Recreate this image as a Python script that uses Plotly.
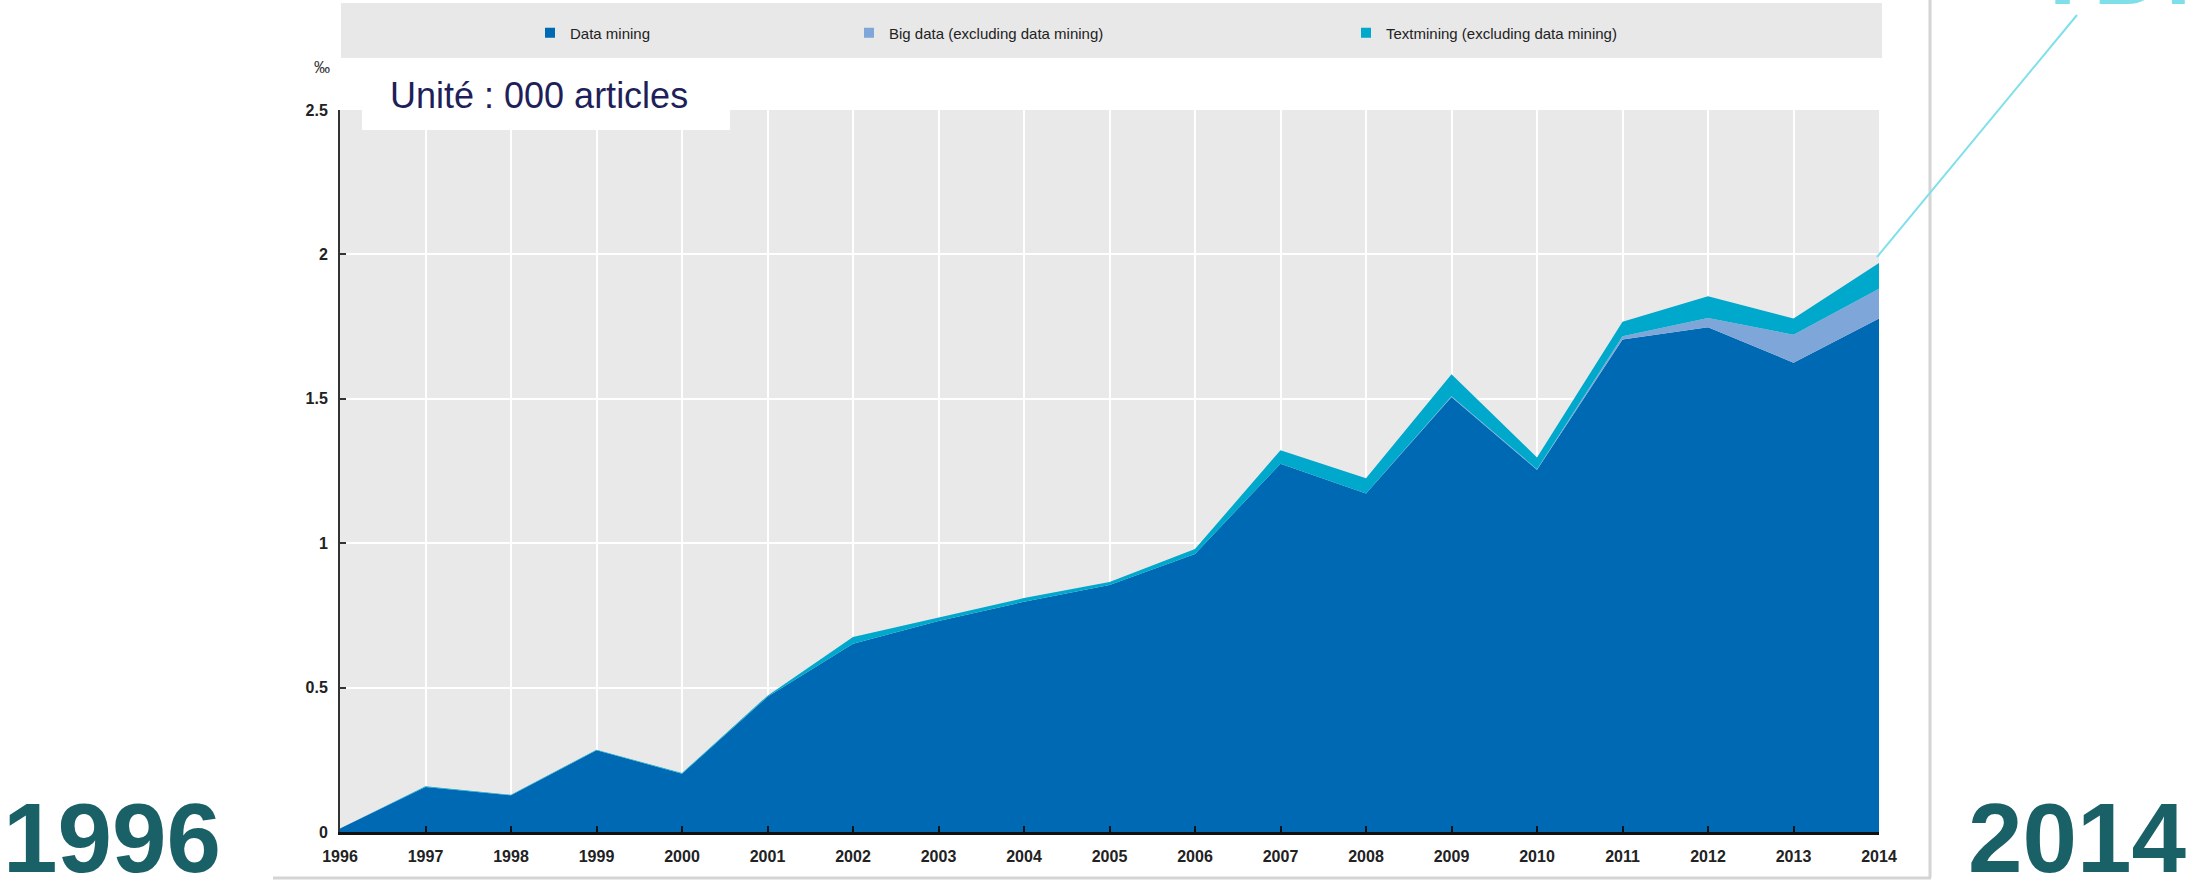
import plotly.graph_objects as go

# ---- data (per-mille) ----
years = [1996, 1997, 1998, 1999, 2000, 2001, 2002, 2003, 2004, 2005,
         2006, 2007, 2008, 2009, 2010, 2011, 2012, 2013, 2014]
data_mining = [0.012, 0.156, 0.127, 0.283, 0.202, 0.468, 0.652, 0.731, 0.797, 0.855,
               0.963, 1.275, 1.172, 1.506, 1.254, 1.705, 1.748, 1.625, 1.778]
big_data = [0, 0, 0, 0, 0, 0, 0, 0, 0, 0,
            0, 0, 0, 0.003, 0.002, 0.012, 0.032, 0.097, 0.103]
text_mining = [0, 0.002, 0.002, 0.002, 0.002, 0.004, 0.023, 0.012, 0.013, 0.011,
               0.017, 0.047, 0.053, 0.076, 0.041, 0.05, 0.075, 0.056, 0.089]
series_names = ["Data mining", "Big data (excluding data mining)",
                "Textmining (excluding data mining)"]
series_colors = ["#0069b4", "#7ea6d9", "#00a8cb"]
y_ticks = [0, 0.5, 1, 1.5, 2, 2.5]
y_tick_text = ["0", "0.5", "1", "1.5", "2", "2.5"]

W, H = 2194, 882
L, R, T, B = 340, 315, 110, 50
PW, PH = W - L - R, H - T - B


def px(x):
    return (x - L) / PW


def py(y):
    return (H - B - y) / PH


fig = go.Figure()
for name, vals, col in zip(series_names, [data_mining, big_data, text_mining], series_colors):
    fig.add_trace(go.Scatter(
        x=years, y=vals, name=name, stackgroup="one", mode="lines",
        line=dict(width=0, color=col), fillcolor=col, showlegend=False,
        legendgroup=name, hoverinfo="x+y+name"))

legend_ids = ["legend", "legend2", "legend3"]
legend_px = [530, 849, 1346]
for name, col, lid in zip(series_names, series_colors, legend_ids):
    fig.add_trace(go.Scatter(
        x=[None], y=[None], name=name, mode="markers",
        marker=dict(symbol="square", size=10, color=col),
        legendgroup=name, legend=lid, showlegend=True))

lfont = dict(family="Liberation Sans, Arial, sans-serif", size=15, color="#222222")
legends = {}
for lid, lx in zip(legend_ids, legend_px):
    legends[lid] = dict(x=px(lx), y=py(33), xanchor="left", yanchor="middle",
                        orientation="h", bgcolor="rgba(0,0,0,0)", font=lfont,
                        itemwidth=30)

tickfont = dict(family="Liberation Sans, Arial, sans-serif", size=16, color="#222222",
                weight="bold")

fig.update_layout(
    width=W, height=H,
    margin=dict(l=L, r=R, t=T, b=B, pad=0),
    paper_bgcolor="white", plot_bgcolor="#e9e9e9",
    showlegend=True,
    **legends,
    xaxis=dict(range=[1996, 2014], tickmode="array", tickvals=years,
               ticktext=[str(y) for y in years], showgrid=True, gridcolor="white",
               gridwidth=2, showline=True, linecolor="#111111", linewidth=3,
               ticks="inside", ticklen=6, tickwidth=2, tickcolor="#111111",
               tickfont=tickfont, zeroline=False, ticklabelstandoff=8),
    yaxis=dict(range=[0, 2.5], tickmode="array", tickvals=y_ticks, ticktext=y_tick_text,
               showgrid=True, gridcolor="white", gridwidth=2, showline=True,
               linecolor="#333333", linewidth=2, ticks="inside", ticklen=6,
               tickwidth=2, tickcolor="#333333", tickfont=tickfont, zeroline=False,
               ticklabelstandoff=7),
)

shapes = [
    # legend band
    dict(type="rect", xref="paper", yref="paper", x0=px(341), x1=px(1882), y0=py(58), y1=py(3),
         fillcolor="#e8e8e8", line=dict(width=0), layer="below"),
    # unit label box
    dict(type="rect", xref="paper", yref="paper", x0=px(362), x1=px(730), y0=py(130), y1=py(60),
         fillcolor="white", line=dict(width=0), layer="above"),
    # frame lines
    dict(type="line", xref="paper", yref="paper", x0=px(1930), x1=px(1930), y0=py(0), y1=py(878),
         line=dict(color="#d4d4d4", width=3)),
    dict(type="line", xref="paper", yref="paper", x0=px(273), x1=px(1931), y0=py(878), y1=py(878),
         line=dict(color="#d4d4d4", width=3)),
    # callout line
    dict(type="line", xref="paper", yref="paper", x0=px(1877), x1=px(2077), y0=py(257), y1=py(15),
         line=dict(color="#7fe0ea", width=2)),
]
fig.update_layout(shapes=shapes)

annotations = [
    dict(text="Unité : 000 articles", xref="paper", yref="paper", x=px(388), y=py(96),
         xanchor="left", yanchor="middle", showarrow=False,
         font=dict(family="Liberation Sans, Arial, sans-serif", size=36, color="#1f1f5a")),
    dict(text="‰", xref="paper", yref="paper", x=px(322), y=py(68), xanchor="center",
         yanchor="middle", showarrow=False, font=dict(family="Liberation Sans, sans-serif",
                                                      size=16, color="#333333")),
    dict(text="<b>1996</b>", xref="paper", yref="paper", x=px(112), y=py(838),
         xanchor="center", yanchor="middle", showarrow=False,
         font=dict(family="Liberation Sans, Arial, sans-serif", size=98, color="#1a6167")),
    dict(text="<b>2014</b>", xref="paper", yref="paper", x=px(2077), y=py(838),
         xanchor="center", yanchor="middle", showarrow=False,
         font=dict(family="Liberation Sans, Arial, sans-serif", size=98, color="#1a6167")),
    dict(text="<b>TDM</b>", xref="paper", yref="paper", x=px(2030), y=py(27),
         xanchor="left", yanchor="bottom", showarrow=False,
         font=dict(family="Liberation Sans, Arial, sans-serif", size=100, color="#7fdfe8")),
]
fig.update_layout(annotations=annotations)

fig.write_html("out.html", config={"displayModeBar": False},
               post_script="document.body.style.margin='0';document.body.style.overflow='hidden';")
